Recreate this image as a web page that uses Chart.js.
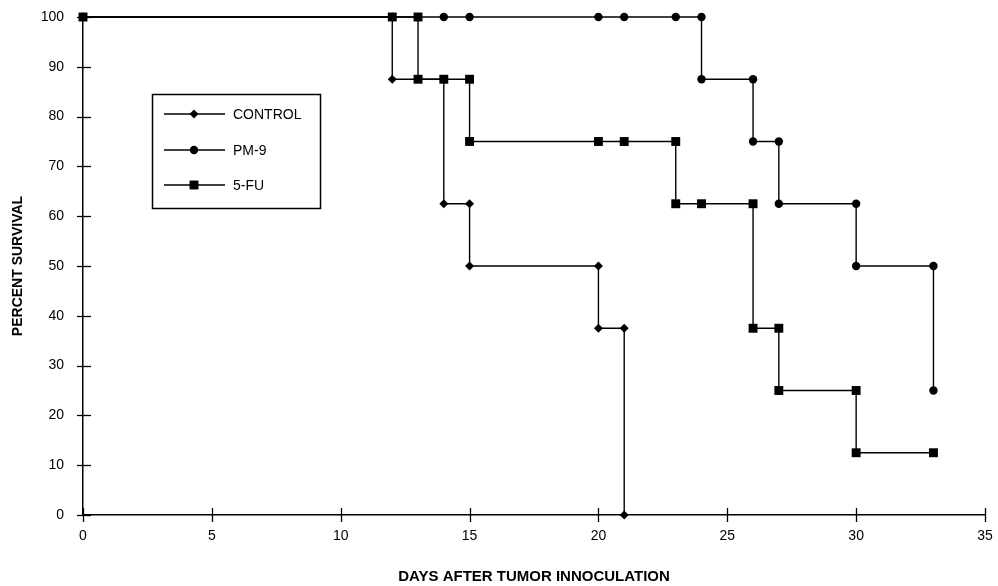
<!DOCTYPE html>
<html>
<head>
<meta charset="utf-8">
<script src="https://cdn.jsdelivr.net/npm/chart.js@4/dist/chart.umd.min.js"></script>
<style>
    html, body { margin: 0; padding: 0; background: #fff; }
    #wrap { width: 998px; height: 586px; position: relative; }
</style>
</head>
<body>
<div id="wrap"><canvas id="survivalChart" width="998" height="586"></canvas></div>
<script>
// series labels
const seriesNames = ['CONTROL', 'PM-9', '5-FU'];

// step curves: each drop is two points on the same day
const controlDays = [0, 12, 12, 14, 14, 15, 15, 20, 20, 21, 21];
const controlSurv = [100, 100, 87.5, 87.5, 62.5, 62.5, 50, 50, 37.5, 37.5, 0];

const pm9Days = [0, 14, 15, 20, 21, 23, 24, 24, 26, 26, 27, 27, 30, 30, 33, 33];
const pm9Surv = [100, 100, 100, 100, 100, 100, 100, 87.5, 87.5, 75, 75, 62.5, 62.5, 50, 50, 25];

const fuDays = [0, 12, 13, 13, 14, 15, 15, 20, 21, 23, 23, 24, 26, 26, 27, 27, 30, 30, 33];
const fuSurv = [100, 100, 100, 87.5, 87.5, 87.5, 75, 75, 75, 75, 62.5, 62.5, 62.5, 37.5, 37.5, 25, 25, 12.5, 12.5];

// axis ticks
const xTicks = [0, 5, 10, 15, 20, 25, 30, 35];
const yTicks = [0, 10, 20, 30, 40, 50, 60, 70, 80, 90, 100];

const toPoints = (xs, ys) => xs.map((x, i) => ({x: x, y: ys[i]}));

const markerStyles = [
    {pointStyle: 'rectRot', radius: 4.5},
    {pointStyle: 'circle', radius: 4.2},
    {pointStyle: 'rect', radius: 6.3}
];

const fontFamily = '"Liberation Sans", Arial, sans-serif';

function drawMarker(ctx, style, radius, x, y) {
    ctx.beginPath();
    if (style === 'circle') {
        ctx.arc(x, y, radius, 0, Math.PI * 2);
    } else if (style === 'rect') {
        const s = radius * Math.SQRT1_2;
        ctx.rect(x - s, y - s, 2 * s, 2 * s);
    } else {
        ctx.moveTo(x, y - radius);
        ctx.lineTo(x + radius, y);
        ctx.lineTo(x, y + radius);
        ctx.lineTo(x - radius, y);
        ctx.closePath();
    }
    ctx.fill();
}

// ticks that cross the axis lines
const crossTicks = {
    id: 'crossTicks',
    afterDatasetsDraw(chart) {
        const ctx = chart.ctx;
        const xs = chart.scales.x, ys = chart.scales.y;
        const area = chart.chartArea;
        ctx.save();
        ctx.strokeStyle = '#000';
        ctx.lineWidth = 1.3;
        xTicks.forEach(v => {
            const px = Math.round(xs.getPixelForValue(v)) + 0.5;
            ctx.beginPath();
            ctx.moveTo(px, area.bottom - 7);
            ctx.lineTo(px, area.bottom + 7);
            ctx.stroke();
        });
        yTicks.forEach(v => {
            const py = Math.round(ys.getPixelForValue(v)) + 0.5;
            ctx.beginPath();
            ctx.moveTo(area.left - 6, py);
            ctx.lineTo(area.left + 8, py);
            ctx.stroke();
        });
        ctx.restore();
    }
};

// boxed legend inside the plot
const boxLegend = {
    id: 'boxLegend',
    afterDraw(chart) {
        const ctx = chart.ctx;
        ctx.save();
        ctx.strokeStyle = '#000';
        ctx.lineWidth = 1.5;
        ctx.strokeRect(152.5, 94.5, 168, 114);
        const rowsY = [114, 150, 185];
        ctx.font = '14px ' + fontFamily;
        ctx.textBaseline = 'middle';
        ctx.fillStyle = '#000';
        chart.data.datasets.forEach((ds, i) => {
            const y = rowsY[i];
            ctx.lineWidth = 1.3;
            ctx.beginPath();
            ctx.moveTo(164, y);
            ctx.lineTo(225, y);
            ctx.stroke();
            drawMarker(ctx, markerStyles[i].pointStyle, markerStyles[i].radius, 194, y);
            ctx.fillText(ds.label, 233, y + 1);
        });
        ctx.restore();
    }
};

const makeSet = (i, xs, ys) => ({
    label: seriesNames[i],
    data: toPoints(xs, ys),
    showLine: true,
    clip: false,
    borderColor: '#000',
    backgroundColor: '#000',
    borderWidth: 1.4,
    pointStyle: markerStyles[i].pointStyle,
    pointRadius: markerStyles[i].radius,
    pointBorderWidth: 0,
    pointBackgroundColor: '#000',
    tension: 0
});

new Chart(document.getElementById('survivalChart').getContext('2d'), {
    type: 'scatter',
    data: {
        datasets: [
            makeSet(0, controlDays, controlSurv),
            makeSet(1, pm9Days, pm9Surv),
            makeSet(2, fuDays, fuSurv)
        ]
    },
    options: {
        responsive: false,
        animation: false,
        layout: {autoPadding: false, padding: {top: 17, right: 13, left: 0, bottom: 0}},
        plugins: {legend: {display: false}, tooltip: {enabled: false}},
        scales: {
            x: {
                type: 'linear',
                min: 0,
                max: 35,
                afterBuildTicks: s => { s.ticks = xTicks.map(v => ({value: v})); },
                afterFit: s => { s.height = 71; s.paddingLeft = 0; s.paddingRight = 0; },
                grid: {display: false},
                border: {display: true, color: '#000', width: 1.5},
                ticks: {
                    color: '#000',
                    padding: 5,
                    maxRotation: 0,
                    font: {family: fontFamily, size: 14}
                },
                title: {
                    display: true,
                    text: 'DAYS AFTER TUMOR INNOCULATION',
                    color: '#000',
                    padding: {top: 8, bottom: 0},
                    font: {family: fontFamily, size: 15, weight: 'bold'}
                }
            },
            y: {
                min: 0,
                max: 100,
                afterBuildTicks: s => { s.ticks = yTicks.map(v => ({value: v})); },
                afterFit: s => { s.width = 83; s.paddingTop = 0; s.paddingBottom = 0; },
                grid: {display: false},
                border: {display: true, color: '#000', width: 1.5},
                ticks: {
                    color: '#000',
                    padding: 11,
                    font: {family: fontFamily, size: 14}
                },
                title: {
                    display: true,
                    text: 'PERCENT SURVIVAL',
                    color: '#000',
                    padding: {top: 10, bottom: 0},
                    font: {family: fontFamily, size: 14, weight: 'bold'}
                }
            }
        }
    },
    plugins: [crossTicks, boxLegend]
});
</script>
</body>
</html>
